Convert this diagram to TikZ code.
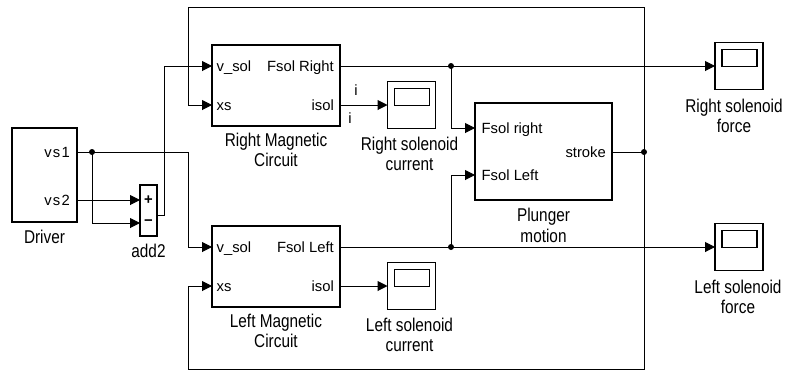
\documentclass[tikz,border=0pt]{standalone}
\usepackage{fontspec}
\setmainfont{Liberation Sans}
\newfontfamily\lblfont[FakeStretch=0.83]{Liberation Sans}
\usetikzlibrary{arrows.meta}
\begin{document}
\begin{tikzpicture}[x=1bp,y=-1bp,
  blk/.style={draw,line width=1.1bp,inner sep=0,outer sep=0},
  scopebox/.style={blk,minimum width=48bp,minimum height=47bp},
  wire/.style={line width=1bp},
  arr/.style={wire,-{Triangle[length=10bp,width=10bp]}},
  port/.style={font=\fontsize{14.8bp}{17bp}\selectfont,inner sep=0},
  portl/.style={port,anchor=base west,xshift=4.5bp,yshift=-5.3bp},
  portr/.style={port,anchor=base east,xshift=-6bp,yshift=-5.3bp},
  lbl/.style={font=\lblfont\fontsize{18.5bp}{20.5bp}\selectfont,align=center,anchor=north,inner sep=0},
  jdot/.style={circle,fill,inner sep=0,minimum size=6bp}
]
\useasboundingbox (0,0) rectangle (785,371);

% blocks
\node[blk,minimum width=65bp,minimum height=94bp] (drv) at (44.5,175) {};
\node[blk,minimum width=17bp,minimum height=51bp] (add) at (148.5,210.5) {};
\node[blk,minimum width=128bp,minimum height=81bp] (rmc) at (276,85.5) {};
\node[blk,minimum width=128bp,minimum height=81bp] (lmc) at (276,266.5) {};
\node[blk,minimum width=137bp,minimum height=97bp] (pm) at (543.5,151.5) {};
\node[scopebox] (rsc) at (411.5,105) {};
\node[scopebox] (lsc) at (411.5,286) {};
\node[scopebox] (rsf) at (739,66) {};
\node[scopebox] (lsf) at (739,247) {};
\foreach \s in {rsc,lsc,rsf,lsf}{
  \draw[line width=1.1bp] ([shift={(7,7)}]\s.north west) rectangle ([shift={(-6,24)}]\s.north east);
}

% ports
\coordinate (drv-o1) at (77,152);
\coordinate (drv-o2) at (77,200);
\coordinate (add-i1) at (140,200);
\coordinate (add-i2) at (140,223);
\coordinate (add-o) at (157,215);
\coordinate (rmc-i1) at (212,66);
\coordinate (rmc-i2) at (212,105);
\coordinate (rmc-o1) at (340,66);
\coordinate (rmc-o2) at (340,105);
\coordinate (lmc-i1) at (212,247);
\coordinate (lmc-i2) at (212,286);
\coordinate (lmc-o1) at (340,247);
\coordinate (lmc-o2) at (340,286);
\coordinate (pm-i1) at (475,128);
\coordinate (pm-i2) at (475,175);
\coordinate (pm-o) at (612,152);
\coordinate (j1) at (92,152);
\coordinate (jr) at (451,66);
\coordinate (jl) at (451,247);
\coordinate (js) at (644,152);

% wires
\draw[arr] (drv-o1) -- (188,152) |- (lmc-i1);
\draw[arr] (j1) |- (add-i2);
\draw[arr] (drv-o2) -- (add-i1);
\draw[arr] (add-o) -- (164,215) |- (rmc-i1);
\draw[arr] (js) -- (644,7) -| (188,105) -- (rmc-i2);
\draw[arr] (js) -- (644,369) -| (188,286) -- (lmc-i2);
\draw[wire] (pm-o) -- (js);
\draw[arr] (rmc-o1) -- (rsf.west);
\draw[arr] (jr) |- (pm-i1);
\draw[arr] (lmc-o1) -- (lsf.west);
\draw[arr] (jl) |- (pm-i2);
\draw[arr] (rmc-o2) -- (rsc.west);
\draw[arr] (lmc-o2) -- (lsc.west);
\foreach \j in {j1,jr,jl,js}{\node[jdot] at (\j) {};}

% port texts
\node[portr,xshift=-1bp] at (drv-o1) {v\kern1.2bp s\kern1.2bp 1};
\node[portr,xshift=-1bp] at (drv-o2) {v\kern1.2bp s\kern1.2bp 2};
\node[port] at (148.5,200) {\textbf{+}};
\node[port] at (148.5,223) {\textbf{−}};
\node[portl] at (rmc-i1) {v\_sol};
\node[portl] at (rmc-i2) {xs};
\node[portr] at (rmc-o1) {Fsol Right};
\node[portr] at (rmc-o2) {isol};
\node[portl] at (lmc-i1) {v\_sol};
\node[portl] at (lmc-i2) {xs};
\node[portr] at (lmc-o1) {Fsol Left};
\node[portr] at (lmc-o2) {isol};
\node[portl,xshift=2bp] at (pm-i1) {Fsol right};
\node[portl,xshift=2bp] at (pm-i2) {Fsol Left};
\node[portr] at (pm-o) {stroke};
\node[port] (il1) at (356,90) {i};
\node[port] (il2) at (350,118) {i};

% labels
\node[lbl] (drvl) at ([yshift=-8bp]drv.south) {Driver};
\node[lbl] (addl) at ([yshift=-7.5bp]add.south) {add2};
\node[lbl] (rmcl) at ([yshift=-6.5bp]rmc.south) {Right Magnetic\\Circuit};
\node[lbl] (lmcl) at ([yshift=-6.5bp]lmc.south) {Left Magnetic\\Circuit};
\node[lbl] (pml) at ([yshift=-8bp]pm.south) {Plunger\\motion};
\node[lbl] (rscl) at ([xshift=-2bp,yshift=-8bp]rsc.south) {Right solenoid\\current};
\node[lbl] (lscl) at ([xshift=-2bp,yshift=-8bp]lsc.south) {Left solenoid\\current};
\node[lbl] (rsfl) at ([xshift=-5bp,yshift=-9bp]rsf.south) {Right solenoid\\force};
\node[lbl] (lsfl) at ([xshift=-1bp,yshift=-9bp]lsf.south) {Left solenoid\\force};
\end{tikzpicture}
\end{document}
